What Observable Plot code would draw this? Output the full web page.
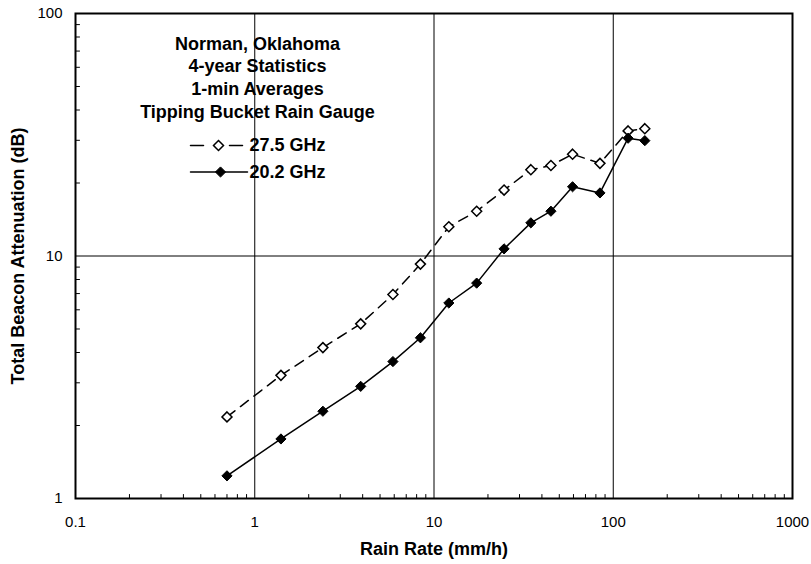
<!DOCTYPE html>
<html>
<head>
<meta charset="utf-8">
<script src="https://cdn.jsdelivr.net/npm/d3@7"></script>
<script src="https://cdn.jsdelivr.net/npm/@observablehq/plot@0.6"></script>
<style>
  html, body { margin: 0; padding: 0; background: #fff; }
</style>
</head>
<body>
<div id="chart"></div>
<script>
// ---- data ----
const rainRate = [0.7, 1.4, 2.4, 3.9, 5.9, 8.4, 12.1, 17.3, 24.6, 34.7, 44.9, 59.3, 84.3, 121, 150];
const att275 = [2.17, 3.22, 4.19, 5.25, 6.94, 9.26, 13.2, 15.3, 18.7, 22.7, 23.6, 26.3, 24.1, 32.8, 33.5];
const att202 = [1.24, 1.76, 2.29, 2.90, 3.67, 4.60, 6.40, 7.73, 10.7, 13.7, 15.3, 19.3, 18.2, 30.6, 29.9];
const seriesNames = ["27.5 GHz", "20.2 GHz"];
const xTicks = [0.1, 1, 10, 100, 1000];
const yTicks = [1, 10, 100];
const xDecadeGrid = [1, 10, 100];
const yDecadeGrid = [10];
const titleLines = ["Norman, Oklahoma", "4-year Statistics", "1-min Averages", "Tipping Bucket Rain Gauge"];
const xLabel = "Rain Rate (mm/h)";
const yLabel = "Total Beacon Attenuation (dB)";

// ---- derived ----
const rows = rainRate.map((r, i) => ({rate: r, a275: att275[i], a202: att202[i]}));
const minor = (decades) => decades.flatMap(d => [2,3,4,5,6,7,8,9].map(k => k * d));
const xMinor = minor([0.1, 1, 10, 100]);
const yMinor = minor([1, 10]);

const seg = {draw(context, l) { context.moveTo(0, 0); context.lineTo(0, -l); }};
const font = "'Liberation Sans', Arial, Helvetica, sans-serif";
const bold = {fontSize: 18, fontWeight: "bold", fill: "black", lineAnchor: "middle"};

const chart = Plot.plot({
  width: 811,
  height: 564,
  marginLeft: 75,
  marginRight: 19,
  marginTop: 13,
  marginBottom: 66,
  style: {fontFamily: font, fontSize: "15px", color: "black", background: "white"},
  x: {type: "log", domain: [0.1, 1000]},
  y: {type: "log", domain: [1, 100]},
  marks: [
    Plot.ruleX(xDecadeGrid, {stroke: "black", strokeWidth: 1}),
    Plot.ruleY(yDecadeGrid, {stroke: "black", strokeWidth: 1}),
    // inward minor ticks
    Plot.vector(xMinor, {x: d => d, frameAnchor: "bottom", length: 4, rotate: 0, anchor: "start", shape: seg, stroke: "black", strokeWidth: 1}),
    Plot.vector(yMinor, {y: d => d, frameAnchor: "left", length: 4, rotate: 90, anchor: "start", shape: seg, stroke: "black", strokeWidth: 1}),
    Plot.frame({stroke: "black", strokeWidth: 2}),
    Plot.axisX({ticks: xTicks, tickSize: 0, tickPadding: 18, tickFormat: d => String(d), label: null, fontSize: 15}),
    Plot.axisY({ticks: yTicks, tickSize: 0, tickPadding: 13, tickFormat: d => String(d), label: null, fontSize: 15}),
    // series
    Plot.line(rows, {x: "rate", y: "a275", stroke: "black", strokeWidth: 1.5, strokeDasharray: "10,7"}),
    Plot.line(rows, {x: "rate", y: "a202", stroke: "black", strokeWidth: 1.5}),
    Plot.dot(rows, {x: "rate", y: "a275", symbol: "diamond2", r: 4.5, fill: "white", stroke: "black", strokeWidth: 1.5}),
    Plot.dot(rows, {x: "rate", y: "a202", symbol: "diamond2", r: 4.6, fill: "black", stroke: "black", strokeWidth: 1}),
    // title block
    Plot.text([titleLines.join("\n")], {...bold, frameAnchor: "top-left", dx: 182, dy: 63, lineHeight: 1.26, textAnchor: "middle"}),
    // legend row 1 (dashed, open)
    Plot.vector([0], {frameAnchor: "top-left", dx: 115, dy: 132, length: 52, rotate: 90, anchor: "start", shape: seg, stroke: "black", strokeWidth: 1.5, strokeDasharray: "13,26"}),
    Plot.dot([0], {frameAnchor: "top-left", dx: 143, dy: 132, symbol: "diamond2", r: 4.5, fill: "white", stroke: "black", strokeWidth: 1.5}),
    Plot.text([seriesNames[0]], {...bold, frameAnchor: "top-left", dx: 174, dy: 132, textAnchor: "start"}),
    // legend row 2 (solid, filled)
    Plot.vector([0], {frameAnchor: "top-left", dx: 115, dy: 158.5, length: 57, rotate: 90, anchor: "start", shape: seg, stroke: "black", strokeWidth: 1.5}),
    Plot.dot([0], {frameAnchor: "top-left", dx: 145, dy: 158.5, symbol: "diamond2", r: 4.6, fill: "black", stroke: "black", strokeWidth: 1}),
    Plot.text([seriesNames[1]], {...bold, frameAnchor: "top-left", dx: 174, dy: 158.5, textAnchor: "start"}),
    // axis labels
    Plot.text([xLabel], {...bold, frameAnchor: "bottom", dy: 51, textAnchor: "middle"}),
    Plot.text([yLabel], {...bold, frameAnchor: "left", dx: -57, rotate: -90, textAnchor: "middle"})
  ]
});
document.getElementById("chart").appendChild(chart);
</script>
</body>
</html>
